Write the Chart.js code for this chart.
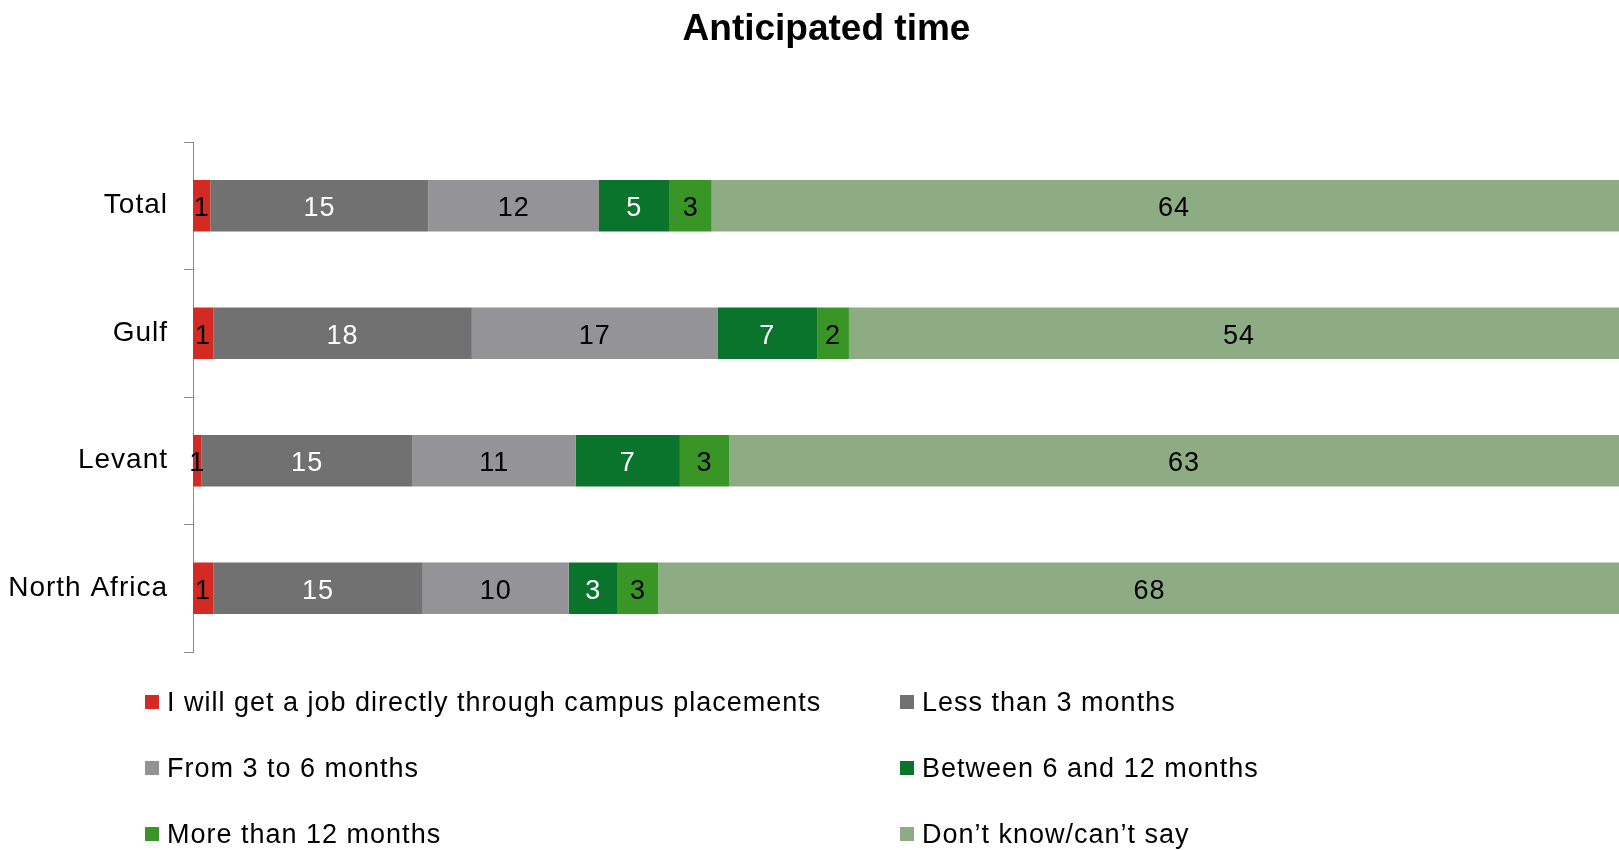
<!DOCTYPE html>
<html>
<head>
<meta charset="utf-8">
<script src="https://cdn.jsdelivr.net/npm/chart.js@4/dist/chart.umd.min.js"></script>
<style>
    body { margin: 0; background: #fff; }
    #wrap { width: 1619px; height: 850px; }
</style>
</head>
<body>
<div id="wrap"><canvas id="timeChart" width="1619" height="850"></canvas></div>
<script>
const categories = ['Total', 'Gulf', 'Levant', 'North Africa'];

const seriesNames = [
    'I will get a job directly through campus placements',
    'Less than 3 months',
    'From 3 to 6 months',
    'Between 6 and 12 months',
    'More than 12 months',
    'Don\u2019t know/can\u2019t say'
];

// shares per region (%); labels show them rounded
const campusPlacement = [1.2, 1.4, 0.6, 1.4];
const lessThan3 = [15.1, 17.9, 14.6, 14.5];
const from3to6 = [11.8, 17.0, 11.3, 10.1];
const between6and12 = [4.9, 6.9, 7.2, 3.4];
const moreThan12 = [2.9, 2.2, 3.4, 2.8];
const dontKnow = [64, 54, 63, 68];

const seriesValues = [campusPlacement, lessThan3, from3to6, between6and12, moreThan12, dontKnow];
const seriesColors = ['#d42a24', '#717171', '#949498', '#0b742c', '#3a9527', '#8eac84'];
const labelColors = ['#000', '#fff', '#000', '#fff', '#000', '#000'];

const FONT = '"Liberation Sans", Arial, sans-serif';
const TITLE = 'Anticipated time';

// the original type is loosely spaced
const spacing = {
    id: 'spacing',
    beforeDraw(chart) {
        chart.ctx.letterSpacing = '1px';
    }
};

// title sits a little right of the canvas centre, so it is drawn by hand
const chartTitle = {
    id: 'chartTitle',
    afterDraw(chart) {
        const ctx = chart.ctx;
        ctx.save();
        ctx.letterSpacing = '0px';
        ctx.font = 'bold 37px ' + FONT;
        ctx.fillStyle = '#000';
        ctx.textAlign = 'center';
        ctx.textBaseline = 'middle';
        ctx.fillText(TITLE, chart.width / 2 + 17, 30);
        ctx.restore();
    }
};

const barLabels = {
    id: 'barLabels',
    afterDatasetsDraw(chart) {
        const ctx = chart.ctx;
        ctx.save();
        ctx.font = '27px ' + FONT;
        ctx.textAlign = 'center';
        ctx.textBaseline = 'middle';
        chart.data.datasets.forEach((ds, i) => {
            const meta = chart.getDatasetMeta(i);
            meta.data.forEach((bar, j) => {
                const p = bar.getProps(['x', 'base', 'y'], true);
                ctx.fillStyle = labelColors[i];
                ctx.fillText(String(Math.round(ds.data[j])), (p.x + p.base) / 2, p.y + 3);
            });
        });
        ctx.restore();
    }
};

const gridLegend = {
    id: 'gridLegend',
    afterDraw(chart) {
        const ctx = chart.ctx;
        const area = chart.chartArea;
        const cols = [area.left - 48, area.left + 707];
        const rows = [area.bottom + 50, area.bottom + 116, area.bottom + 182];
        ctx.save();
        ctx.font = '27px ' + FONT;
        ctx.textBaseline = 'middle';
        ctx.textAlign = 'left';
        chart.data.datasets.forEach((ds, i) => {
            const x = cols[i % 2];
            const y = rows[Math.floor(i / 2)];
            ctx.fillStyle = ds.backgroundColor;
            ctx.fillRect(x, y - 7, 14, 14);
            ctx.fillStyle = '#000';
            ctx.fillText(ds.label, x + 22, y + 2);
        });
        ctx.restore();
    }
};

new Chart(document.getElementById('timeChart'), {
    type: 'bar',
    data: {
        labels: categories,
        datasets: seriesNames.map((name, i) => ({
            label: name,
            data: seriesValues[i],
            backgroundColor: seriesColors[i],
            borderWidth: 0,
            barPercentage: 0.405,
            categoryPercentage: 1
        }))
    },
    options: {
        indexAxis: 'y',
        responsive: false,
        animation: false,
        layout: { padding: { left: 0, right: 0, top: 142, bottom: 198 } },
        scales: {
            x: {
                display: false,
                stacked: true,
                min: 0,
                max: 98.7
            },
            y: {
                stacked: true,
                afterFit(scale) { scale.width = 193; },
                border: { color: '#888', width: 1 },
                grid: { drawOnChartArea: false, tickLength: 9, color: '#888', offset: true },
                ticks: { color: '#000', padding: 16, font: { family: FONT, size: 28 } }
            }
        },
        plugins: {
            legend: { display: false },
            tooltip: { enabled: false },
            title: { display: false }
        }
    },
    plugins: [spacing, chartTitle, barLabels, gridLegend]
});
</script>
</body>
</html>
